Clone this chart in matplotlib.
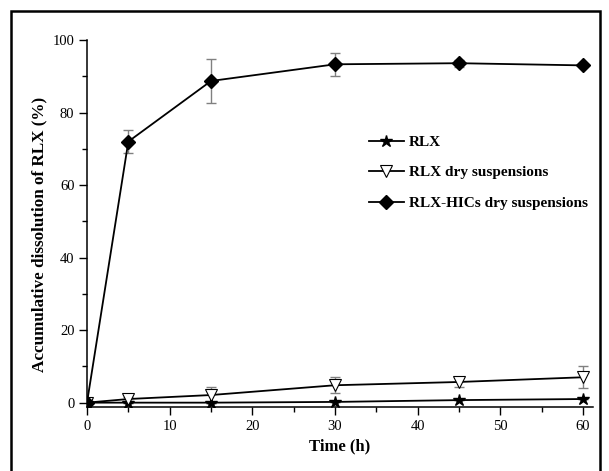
import matplotlib.pyplot as plt
from matplotlib.patches import Rectangle
from matplotlib.ticker import MultipleLocator

plt.rcParams['font.family'] = 'Liberation Serif'

time = [0, 5, 15, 30, 45, 60]
rlx = [0, 0, 0, 0.2, 0.7, 1.0]
rlx_err = [0, 0, 0, 0, 0, 0]
rlx_dry = [0, 1.0, 2.1, 4.8, 5.7, 7.0]
rlx_dry_err = [0, 0.6, 2.1, 2.2, 1.5, 3.0]
hics_dry = [0, 72.0, 88.7, 93.3, 93.6, 93.0]
hics_dry_err = [0, 3.2, 6.1, 3.2, 1.0, 0.3]

fig = plt.figure(figsize=(6.09, 4.71), dpi=100)
ax = fig.add_axes([87 / 609, 64 / 471, 506 / 609, 367 / 471])

# black frame round the whole figure
fig.patches.append(Rectangle((11 / 609, -0.01), 589 / 609, 0.986, transform=fig.transFigure,
                             fill=False, edgecolor='black', linewidth=1.8))

err_kw = dict(fmt='none', ecolor='#808080', elinewidth=1, capsize=3.5, capthick=1)
ax.errorbar(time, rlx, yerr=rlx_err, **err_kw)
ax.errorbar(time, rlx_dry, yerr=rlx_dry_err, **err_kw)
ax.errorbar(time, hics_dry, yerr=hics_dry_err, **err_kw)

ax.plot(time, rlx, color='black', marker='*', markersize=9, lw=1.3, label='RLX')
ax.plot(time, rlx_dry, color='black', marker='v', markersize=8, markerfacecolor='white',
        markeredgewidth=0.8, lw=1.3, label='RLX dry suspensions')
ax.plot(time, hics_dry, color='black', marker='D', markersize=7, lw=1.3,
        label='RLX-HICs dry suspensions')

ax.set_xlim(0, 61.2)
ax.set_ylim(-1.2, 100)
ax.xaxis.set_major_locator(MultipleLocator(10))
ax.xaxis.set_minor_locator(MultipleLocator(5))
ax.yaxis.set_major_locator(MultipleLocator(20))
ax.yaxis.set_minor_locator(MultipleLocator(10))
ax.tick_params(which='both', direction='out', width=1, labelsize=10.5)
ax.tick_params(which='major', length=5.5)
ax.tick_params(which='minor', length=3.5)
for side in ['left', 'bottom']:
    ax.spines[side].set_linewidth(1.1)
ax.spines['top'].set_visible(False)
ax.spines['right'].set_visible(False)

ax.set_xlabel('Time (h)', fontsize=12, fontweight='bold', labelpad=4)
ax.set_ylabel('Accumulative dissolution of RLX (%)', fontsize=12.3, fontweight='bold', labelpad=4)
ax.yaxis.label.set_y(0.47)

ax.legend(loc='upper left', bbox_to_anchor=(0.545, 0.757), frameon=False,
          prop={'weight': 'bold', 'size': 11}, handlelength=2.3, handletextpad=0.3,
          labelspacing=1.1, borderaxespad=0)

fig.savefig('out.png', dpi=100)
